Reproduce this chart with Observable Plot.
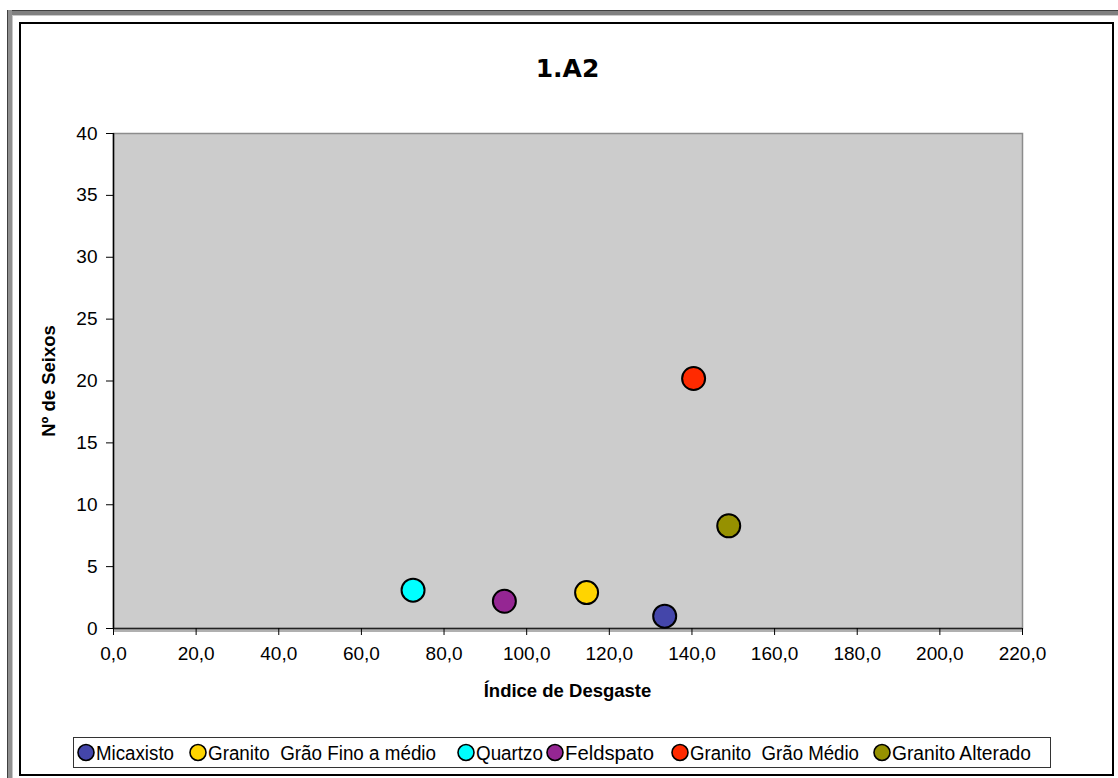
<!DOCTYPE html>
<html>
<head>
<meta charset="utf-8">
<script src="https://cdn.jsdelivr.net/npm/d3@7"></script>
<script src="https://cdn.jsdelivr.net/npm/@observablehq/plot@0.6"></script>
<style>
  html, body { margin: 0; padding: 0; background: #fff; width: 1118px; height: 778px; overflow: hidden; }
  #wrap { position: relative; width: 1118px; height: 778px; }
  #chart { position: absolute; left: 0; top: 0; }
  .ov { position: absolute; pointer-events: none; }
  .title { font-family: "DejaVu Sans", Verdana, sans-serif; font-weight: bold; font-size: 25px; }
  .alabel { font-family: "Liberation Sans", Arial, sans-serif; font-weight: bold; font-size: 18.5px; color: #000; white-space: nowrap; }
</style>
</head>
<body>
<div id="wrap">
  <div id="chart"></div>
  <!-- window-like frame -->
  <div class="ov" style="left:7px; top:10px; right:0; height:5px; background:#808080; border-top:1px solid #404040; box-sizing:border-box;"></div>
  <div class="ov" style="left:7px; top:10px; width:5px; bottom:0; background:#909090; border-left:1px solid #404040; box-sizing:border-box;"></div>
  <div class="ov" style="left:12px; top:15px; right:0; height:1px; background:#c8c8c8;"></div>
  <div class="ov" style="left:12px; top:15px; width:1px; bottom:0; background:#c8c8c8;"></div>
  <div class="ov" style="left:19px; top:22px; width:1095px; height:754px; border:2px solid #000; box-sizing:border-box;"></div>
  <div class="ov title" id="title" style="left:0; width:1135px; top:54px; text-align:center;"></div>
  <div class="ov alabel" id="xlabel" style="left:0; width:1135px; top:680px; text-align:center;"></div>
  <div class="ov alabel" id="ylabel" style="left:49px; top:381px; transform: translate(-50%,-50%) rotate(-90deg);"></div>
  <svg class="ov" id="legend" width="1118" height="778" style="left:0; top:0;"></svg>
</div>
<script>
// ---- data ----
const titleText = "1.A2";
const xLabel = "Índice de Desgaste";
const yLabel = "Nº de Seixos";
const categories = ["Micaxisto", "Granito  Grão Fino a médio", "Quartzo", "Feldspato", "Granito  Grão Médio", "Granito Alterado"];
const xValues = [133.4, 114.5, 72.5, 94.6, 140.4, 148.9];
const yValues = [1.0, 2.9, 3.1, 2.2, 20.2, 8.3];
const colors = ["#4446aa", "#ffd400", "#00ffff", "#952693", "#ff2a00", "#969100"];
const xTicks = [0, 20, 40, 60, 80, 100, 120, 140, 160, 180, 200, 220];
const yTicks = [0, 5, 10, 15, 20, 25, 30, 35, 40];

const data = categories.map((c, i) => ({cat: c, x: xValues[i], y: yValues[i]}));

document.getElementById("title").textContent = titleText;
document.getElementById("xlabel").textContent = xLabel;
document.getElementById("ylabel").textContent = yLabel;

const fmt = d => d.toFixed(1).replace(".", ",");

const chart = Plot.plot({
  width: 1118,
  height: 778,
  marginLeft: 113,
  marginRight: 96,
  marginTop: 133,
  marginBottom: 150,
  style: {fontFamily: "'Liberation Sans', Arial, sans-serif", fontSize: "19px", color: "#000", background: "transparent"},
  x: {domain: [0, 220], ticks: xTicks, tickFormat: fmt, label: null},
  y: {domain: [0, 40], ticks: yTicks, label: null},
  color: {domain: categories, range: colors},
  marks: [
    Plot.frame({fill: "#cccccc", stroke: "#8c8c8c", strokeWidth: 1.5}),
    Plot.ruleY([0], {stroke: "#b0b0b0", strokeWidth: 3, dy: 2}),
    Plot.ruleY([0], {stroke: "#222", strokeWidth: 1.5}),
    Plot.ruleX([0], {stroke: "#000", strokeWidth: 1.5}),
    Plot.axisX({ticks: xTicks, tickFormat: fmt, tickSize: 7, tickPadding: 11, stroke: "#000", fontSize: 19, label: null}),
    Plot.axisY({ticks: yTicks, tickSize: 7, tickPadding: 9, stroke: "#000", fontSize: 19, label: null}),
    Plot.dot(data, {x: "x", y: "y", fill: "cat", r: 11.5, stroke: "#000", strokeWidth: 2})
  ]
});
document.getElementById("chart").appendChild(chart);

// ---- legend ----
const legendItems = [
  {cx: 86, tx: 96, tw: 78},
  {cx: 198, tx: 208, tw: 228},
  {cx: 466, tx: 476, tw: 67},
  {cx: 555, tx: 565, tw: 89},
  {cx: 680, tx: 690, tw: 169},
  {cx: 882, tx: 892, tw: 139}
];
const ns = "http://www.w3.org/2000/svg";
const lg = document.getElementById("legend");
const box = document.createElementNS(ns, "rect");
box.setAttribute("x", 73.5); box.setAttribute("y", 737.5);
box.setAttribute("width", 977); box.setAttribute("height", 30);
box.setAttribute("fill", "#fff"); box.setAttribute("stroke", "#333"); box.setAttribute("stroke-width", 1);
lg.appendChild(box);
categories.forEach((c, i) => {
  const it = legendItems[i];
  const circ = document.createElementNS(ns, "circle");
  circ.setAttribute("cx", it.cx); circ.setAttribute("cy", 752.5); circ.setAttribute("r", 8);
  circ.setAttribute("fill", colors[i]); circ.setAttribute("stroke", "#000"); circ.setAttribute("stroke-width", 1.6);
  lg.appendChild(circ);
  const t = document.createElementNS(ns, "text");
  t.setAttribute("x", it.tx); t.setAttribute("y", 760);
  t.setAttribute("font-family", "'Liberation Sans', Arial, sans-serif");
  t.setAttribute("font-size", "20");
  t.setAttribute("textLength", it.tw);
  t.setAttribute("lengthAdjust", "spacingAndGlyphs");
  t.setAttribute("xml:space", "preserve");
  t.style.whiteSpace = "pre";
  t.textContent = c;
  lg.appendChild(t);
});
</script>
</body>
</html>
